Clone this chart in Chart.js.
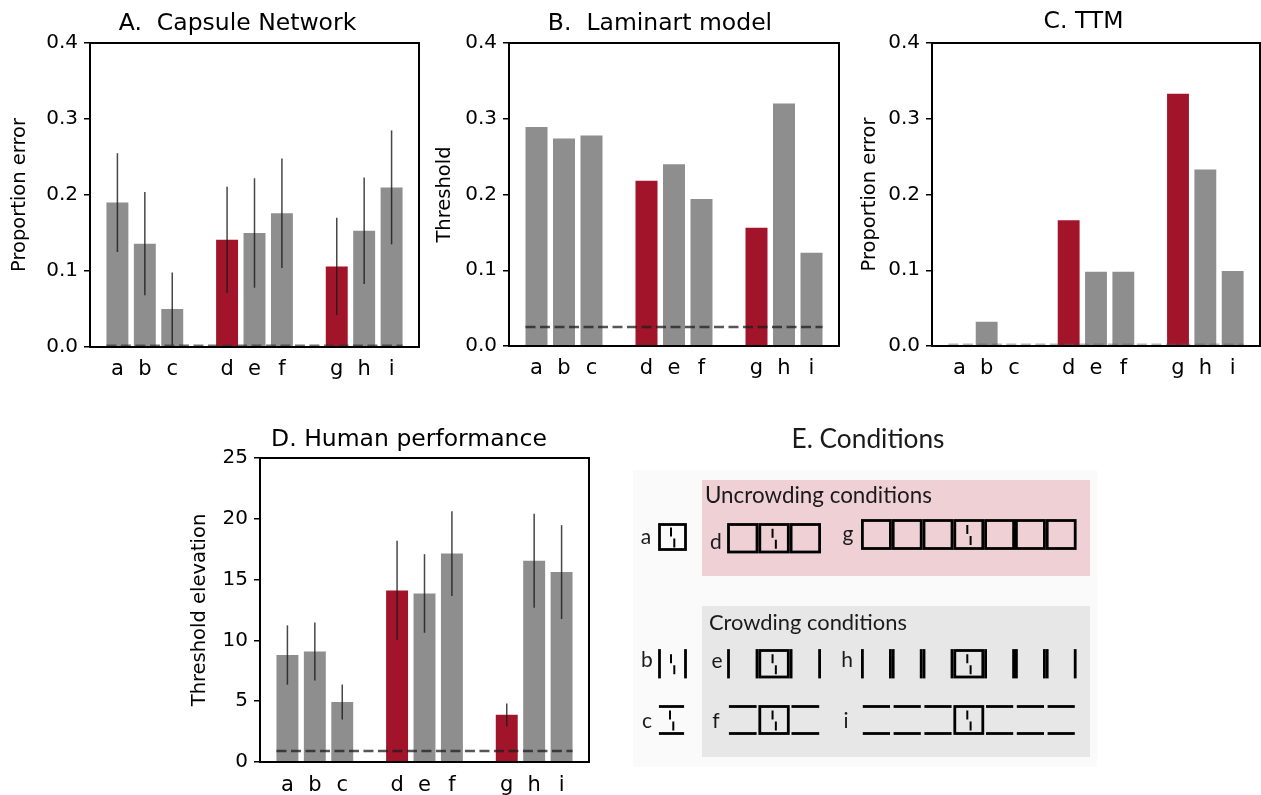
<!DOCTYPE html>
<html>
<head>
<meta charset="utf-8">
<script src="https://cdn.jsdelivr.net/npm/chart.js@4.4.0/dist/chart.umd.min.js"></script>
<style>
  html, body { margin: 0; padding: 0; background: #fff; }
  body { width: 1261px; height: 795px; overflow: hidden; position: relative; }
  .panel { position: absolute; }
</style>
</head>
<body>
<div class="panel" style="left:0;top:0"><canvas id="chartA" width="430" height="390"></canvas></div>
<div class="panel" style="left:430px;top:0"><canvas id="chartB" width="420" height="390"></canvas></div>
<div class="panel" style="left:850px;top:0"><canvas id="chartC" width="412" height="390"></canvas></div>
<div class="panel" style="left:180px;top:400px"><canvas id="chartD" width="420" height="395"></canvas></div>
<div class="panel" style="left:620px;top:420px"><canvas id="panelE" width="500" height="375"></canvas></div>

<script>
// conditions, with empty slots between the three groups
const labels = ['', 'a', 'b', 'c', '', 'd', 'e', 'f', '', 'g', 'h', 'i', ''];
const uncrowded = ['d', 'g'];

// A. Capsule network: proportion error and error bar half-length
const capsule = [null, 0.190, 0.136, 0.050, null, 0.141, 0.150, 0.176, null, 0.106, 0.153, 0.210, null];
const capsuleErr = [null, 0.065, 0.068, 0.048, null, 0.070, 0.072, 0.072, null, 0.064, 0.070, 0.075, null];

// B. Laminart model thresholds
const laminart = [null, 0.289, 0.274, 0.278, null, 0.218, 0.240, 0.194, null, 0.156, 0.320, 0.123, null];
const laminartRef = 0.025;

// C. TTM proportion error
const ttm = [null, 0, 0.032, 0, null, 0.166, 0.098, 0.098, null, 0.333, 0.233, 0.099, null];

// D. Human threshold elevation
const human = [null, 8.80, 9.09, 4.93, null, 14.11, 13.86, 17.14, null, 3.88, 16.55, 15.62, null];
const humanErr = [null, 2.44, 2.39, 1.44, null, 4.08, 3.23, 3.49, null, 0.94, 3.86, 3.86, null];
const humanRef = 0.9;

const GRAY = '#8e8e8e';
const RED = '#a2142a';
const barColors = labels.map(l => uncrowded.includes(l) ? RED : GRAY);

Chart.defaults.font.family = 'DejaVu Sans';
Chart.defaults.color = '#000';

// error bars + dashed reference line
const extras = {
  id: 'extras',
  afterDatasetsDraw(chart, args, opts) {
    const ctx = chart.ctx;
    const y = chart.scales.y;
    const meta = chart.getDatasetMeta(0);
    const vals = chart.data.datasets[0].data;
    ctx.save();
    if (opts.errors) {
      ctx.strokeStyle = 'rgba(25,25,25,0.8)';
      ctx.lineWidth = 1.5;
      opts.errors.forEach((e, i) => {
        if (e == null || vals[i] == null) return;
        const x = meta.data[i].x;
        ctx.beginPath();
        ctx.moveTo(x, y.getPixelForValue(vals[i] - e));
        ctx.lineTo(x, y.getPixelForValue(vals[i] + e));
        ctx.stroke();
      });
    }
    if (opts.ref != null) {
      const bars = meta.data.filter((b, i) => vals[i] != null);
      const first = bars[0], last = bars[bars.length - 1];
      const py = y.getPixelForValue(opts.ref);
      ctx.setLineDash([10, 4.5]);
      ctx.strokeStyle = opts.refColor;
      ctx.lineWidth = opts.refWidth;
      ctx.beginPath();
      ctx.moveTo(first.x - first.width / 2, py);
      ctx.lineTo(last.x + last.width / 2, py);
      ctx.stroke();
    }
    ctx.restore();
  }
};

// full box round the plot, and the panel title (not centred on the plot)
const frame = {
  id: 'frame',
  afterDraw(chart, args, opts) {
    const { ctx, chartArea: a } = chart;
    ctx.save();
    ctx.strokeStyle = '#000';
    ctx.lineWidth = 2;
    ctx.strokeRect(a.left, a.top, a.right - a.left, a.bottom - a.top);
    ctx.font = '23.5px "DejaVu Sans"';
    ctx.fillStyle = '#000';
    ctx.textAlign = 'center';
    ctx.textBaseline = 'middle';
    ctx.fillText(opts.text, opts.x, opts.y);
    ctx.restore();
  }
};

function makeChart(id, cfg) {
  return new Chart(document.getElementById(id), {
    type: 'bar',
    data: {
      labels: labels,
      datasets: [{
        data: cfg.values,
        backgroundColor: barColors,
        borderWidth: 0,
        barPercentage: 0.8,
        categoryPercentage: 1
      }]
    },
    options: {
      responsive: false,
      animation: false,
      layout: { padding: { left: 0, right: cfg.padRight, top: cfg.padTop, bottom: 0 } },
      plugins: {
        legend: { display: false },
        tooltip: { enabled: false },
        frame: { text: cfg.title, x: cfg.titleX, y: cfg.titleY },
        extras: { errors: cfg.errors, ref: cfg.ref, refColor: cfg.refColor, refWidth: cfg.refWidth }
      },
      scales: {
        x: {
          offset: false,
          grid: { display: false },
          border: { display: false },
          ticks: { autoSkip: false, maxRotation: 0, padding: cfg.xPad, color: '#000', font: { size: 21 } },
          afterFit: s => { s.height = cfg.xHeight; }
        },
        y: {
          min: 0,
          max: cfg.max,
          grid: { drawOnChartArea: false, drawTicks: true, tickLength: 6, color: '#000', lineWidth: 1.5 },
          border: { display: false },
          ticks: { stepSize: cfg.step, padding: 6, color: '#000', font: { size: 20 }, callback: cfg.fmt },
          title: {
            display: true,
            text: cfg.yTitle,
            color: '#000',
            font: { size: 19.5 },
            padding: { top: cfg.yTitlePad, bottom: 0 }
          },
          afterFit: s => { s.width = cfg.yWidth; }
        }
      }
    },
    plugins: [extras, frame]
  });
}

const fmt1 = v => v.toFixed(1);

makeChart('chartA', {
  values: capsule, errors: capsuleErr, title: 'A.  Capsule Network', titleX: 237.5, titleY: 24,
  yTitle: 'Proportion error', max: 0.4, step: 0.1, fmt: fmt1,
  yWidth: 90, padRight: 11, padTop: 43, xHeight: 43, xPad: 2, yTitlePad: 8.4,
  ref: 0.002, refColor: 'rgba(50,50,50,0.7)', refWidth: 2
});

makeChart('chartB', {
  values: laminart, title: 'B.  Laminart model', titleX: 230, titleY: 24,
  yTitle: 'Threshold', max: 0.4, step: 0.1, fmt: fmt1,
  yWidth: 79, padRight: 11, padTop: 43, xHeight: 44, xPad: 2, yTitlePad: 3.6,
  ref: laminartRef, refColor: 'rgba(30,30,30,0.75)', refWidth: 2.5
});

makeChart('chartC', {
  values: ttm, title: 'C. TTM', titleX: 233.5, titleY: 22,
  yTitle: 'Proportion error', max: 0.4, step: 0.1, fmt: fmt1,
  yWidth: 82, padRight: 0, padTop: 43, xHeight: 44, xPad: 2, yTitlePad: 8.4,
  ref: 0.002, refColor: 'rgba(90,90,90,0.45)', refWidth: 2
});

makeChart('chartD', {
  values: human, errors: humanErr, title: 'D. Human performance', titleX: 229, titleY: 39.5,
  yTitle: 'Threshold elevation', max: 25, step: 5, fmt: v => String(v),
  yWidth: 80, padRight: 11, padTop: 58, xHeight: 33, xPad: 3, yTitlePad: 8.4,
  ref: humanRef, refColor: 'rgba(30,30,30,0.75)', refWidth: 2.5
});

// E. Conditions: stimulus sketches
(function drawConditions() {
  const cv = document.getElementById('panelE');
  const ctx = cv.getContext('2d');
  ctx.translate(-620, -420);

  ctx.fillStyle = '#fafafa';
  ctx.fillRect(633, 470, 464, 297);
  ctx.fillStyle = '#efd0d5';
  ctx.fillRect(702, 480, 388, 96);
  ctx.fillStyle = '#e7e7e7';
  ctx.fillRect(702, 606, 388, 151);

  const LW = 2.8;
  ctx.strokeStyle = '#000';
  ctx.lineCap = 'butt';

  function line(x0, y0, x1, y1, w) {
    ctx.lineWidth = w;
    ctx.beginPath();
    ctx.moveTo(x0, y0);
    ctx.lineTo(x1, y1);
    ctx.stroke();
  }
  function vernier(cx, cy) {
    line(cx - 1.5, cy - 9.5, cx - 1.5, cy - 0.5, 2);
    line(cx + 1.8, cy + 1.5, cx + 1.8, cy + 10.5, 2);
  }
  // kind: 'box' full square, 'v' vertical sides only, 'h' top and bottom only
  function cell(x, y, w, h, kind, target) {
    if (kind === 'box') {
      ctx.lineWidth = LW;
      ctx.strokeRect(x, y, w, h);
    } else if (kind === 'v') {
      line(x, y - LW / 2, x, y + h + LW / 2, LW);
      line(x + w, y - LW / 2, x + w, y + h + LW / 2, LW);
    } else {
      line(x + 0.4, y, x + w - 0.4, y, LW);
      line(x + 0.4, y + h, x + w - 0.4, y + h, LW);
    }
    if (target) vernier(x + w / 2, y + h / 2);
  }
  // neighbouring cells share a double-thick edge
  function row(x0, pitch, n, y, h, kind) {
    const mid = Math.floor(n / 2);
    const w = pitch - LW;
    for (let k = 0; k < n; k++) {
      cell(x0 + k * pitch, y, w, h, k === mid ? 'box' : kind, k === mid);
    }
  }

  // uncrowding
  cell(659.5, 524.5, 26, 25, 'box', true);
  row(728.5, 31.3, 3, 524.5, 27.5, 'box');
  row(862.4, 30.8, 7, 520.5, 28, 'box');
  // crowding: vertical flankers
  cell(659.5, 650.5, 26, 26.5, 'v', true);
  row(728.5, 31.3, 3, 650.5, 26.5, 'v');
  row(862.4, 30.8, 7, 650.5, 26.5, 'v');
  // crowding: horizontal flankers
  cell(658.5, 706.5, 26, 27, 'h', true);
  row(728.5, 31.3, 3, 706.5, 27, 'h');
  row(862.4, 30.8, 7, 706.5, 27, 'h');

  // text
  ctx.fillStyle = '#1a1a1a';
  ctx.textBaseline = 'alphabetic';
  function fitText(txt, x, base, width, align) {
    ctx.font = '20px Lato';
    const s = 20 * width / ctx.measureText(txt).width;
    ctx.font = s.toFixed(2) + 'px Lato';
    ctx.textAlign = align;
    ctx.fillText(txt, x, base);
  }
  fitText('E. Conditions', 868, 448, 153, 'center');
  fitText('Uncrowding conditions', 705, 503, 227, 'left');
  fitText('Crowding conditions', 709, 630, 198, 'left');

  ctx.font = '21px Lato';
  ctx.textAlign = 'center';
  const tags = [
    ['a', 646, 544], ['d', 716, 549], ['g', 848, 541],
    ['b', 647, 667], ['e', 717, 668], ['h', 847, 667],
    ['c', 647, 728], ['f', 716, 728], ['i', 846, 728]
  ];
  tags.forEach(t => ctx.fillText(t[0], t[1], t[2]));
})();
</script>
</body>
</html>
